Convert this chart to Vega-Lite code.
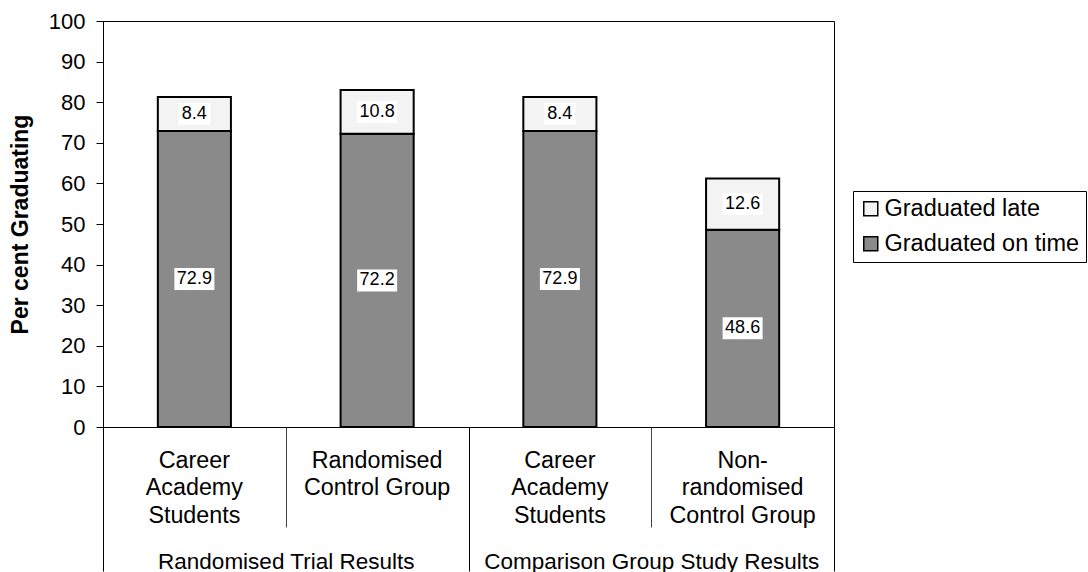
{
  "$schema": "https://vega.github.io/schema/vega-lite/v6.json",
  "autosize": "none",
  "width": 731,
  "height": 406,
  "padding": {"left": 103, "top": 21, "right": 254, "bottom": 145},
  "background": "white",
  "config": {
    "font": "Liberation Sans",
    "view": {"stroke": "black", "strokeWidth": 1},
    "axis": {"labelColor": "black", "titleColor": "black", "tickColor": "black", "domainColor": "black", "labelFont": "Liberation Sans", "titleFont": "Liberation Sans", "grid": false}
  },
  "layer": [
    {
      "data": {
        "values": [
          {"cat": "A|Career|Academy|Students", "status": "Graduated on time", "value": 72.9},
          {"cat": "A|Career|Academy|Students", "status": "Graduated late", "value": 8.4},
          {"cat": "B|Randomised|Control Group", "status": "Graduated on time", "value": 72.2},
          {"cat": "B|Randomised|Control Group", "status": "Graduated late", "value": 10.8},
          {"cat": "C|Career|Academy|Students", "status": "Graduated on time", "value": 72.9},
          {"cat": "C|Career|Academy|Students", "status": "Graduated late", "value": 8.4},
          {"cat": "D|Non-|randomised|Control Group", "status": "Graduated on time", "value": 48.6},
          {"cat": "D|Non-|randomised|Control Group", "status": "Graduated late", "value": 12.6}
        ]
      },
      "transform": [
        {"stack": "value", "groupby": ["cat"], "sort": [{"field": "status", "order": "descending"}], "as": ["y0", "y1"]},
        {"calculate": "(datum.y0 + datum.y1) / 2", "as": "ymid"}
      ],
      "encoding": {
        "x": {
          "field": "cat", "type": "nominal", "sort": null,
          "scale": {"type": "band", "paddingInner": 0.6, "paddingOuter": 0.3},
          "axis": {
            "orient": "bottom", "title": null, "domain": false, "labelAngle": 0,
            "ticks": false,
            "labelExpr": "slice(split(datum.label, '|'), 1)",
            "labelFontSize": 23.3, "labelLineHeight": 27.5, "labelPadding": 22,
            "labelBaseline": "top", "labelOverlap": false, "labelBound": false, "labelLimit": 0
          }
        }
      },
      "layer": [
        {
          "mark": {"type": "bar", "stroke": "black", "strokeWidth": 2},
          "encoding": {
            "y": {
              "field": "y0", "type": "quantitative",
              "scale": {"domain": [0, 100], "nice": false},
              "axis": {
                "title": "Per cent Graduating", "titleFontSize": 23, "titleFontWeight": "bold", "titlePadding": 16,
                "values": [0, 10, 20, 30, 40, 50, 60, 70, 80, 90, 100],
                "labelFontSize": 22, "labelPadding": 11, "tickSize": 7, "domain": true
              }
            },
            "y2": {"field": "y1"},
            "color": {
              "field": "status", "type": "nominal",
              "scale": {"domain": ["Graduated late", "Graduated on time"], "range": ["#f3f3f3", "#8a8a8a"]},
              "legend": {
                "orient": "none", "legendX": 750, "legendY": 170, "title": null,
                "strokeColor": "black", "padding": 6,
                "symbolType": "square", "symbolSize": 196, "symbolStrokeColor": "black", "symbolStrokeWidth": 1.5,
                "labelFontSize": 23.5, "labelFont": "Liberation Sans", "labelColor": "black",
                "rowPadding": 10, "labelOffset": 2, "labelLimit": 0
              }
            }
          }
        },
        {
          "mark": {"type": "point", "filled": true, "color": "white", "opacity": 1, "strokeWidth": 0},
          "encoding": {
            "y": {"field": "ymid", "type": "quantitative", "title": "Per cent Graduating"},
            "shape": {"condition": {"test": "datum.value < 10", "value": "M-1,-0.68H1V0.68H-1Z"}, "value": "M-1,-0.55H1V0.55H-1Z"},
            "size": {"condition": {"test": "datum.value < 10", "value": 1024}, "value": 1600}
          }
        },
        {
          "mark": {"type": "text", "fontSize": 18, "color": "black", "align": "center", "baseline": "middle", "font": "Liberation Sans"},
          "encoding": {
            "y": {"field": "ymid", "type": "quantitative", "title": "Per cent Graduating"},
            "text": {"field": "value", "type": "quantitative", "format": ".1f"}
          }
        }
      ]
    },
    {
      "data": {
        "values": [
          {"slot": "A"},
          {"slot": "B"},
          {"slot": "C"},
          {"slot": "D"}
        ]
      },
      "mark": {"type": "point", "opacity": 0},
      "encoding": {
        "x": {
          "field": "slot", "type": "nominal", "sort": null,
          "scale": {"type": "band", "paddingInner": 0, "paddingOuter": 0},
          "axis": {
            "orient": "bottom", "title": null, "domain": false, "labels": false,
            "ticks": true, "tickBand": "extent", "tickSize": 100, "tickColor": "#444", "tickWidth": 1
          }
        }
      }
    },
    {
      "data": {
        "values": [
          {"group": "Randomised Trial Results"},
          {"group": "Comparison Group Study Results"}
        ]
      },
      "mark": {"type": "point", "opacity": 0},
      "encoding": {
        "x": {
          "field": "group", "type": "nominal", "sort": null,
          "scale": {"type": "band", "paddingInner": 0, "paddingOuter": 0},
          "axis": {
            "orient": "bottom", "title": null, "domain": false, "labelAngle": 0,
            "ticks": true, "tickBand": "extent", "tickSize": 144, "tickColor": "black", "tickWidth": 1,
            "labelFontSize": 22.5, "labelPadding": -21, "labelBaseline": "top", "labelOverlap": false, "labelBound": false, "labelLimit": 0
          }
        }
      }
    }
  ],
  "resolve": {"scale": {"x": "independent"}, "axis": {"x": "independent"}}
}
